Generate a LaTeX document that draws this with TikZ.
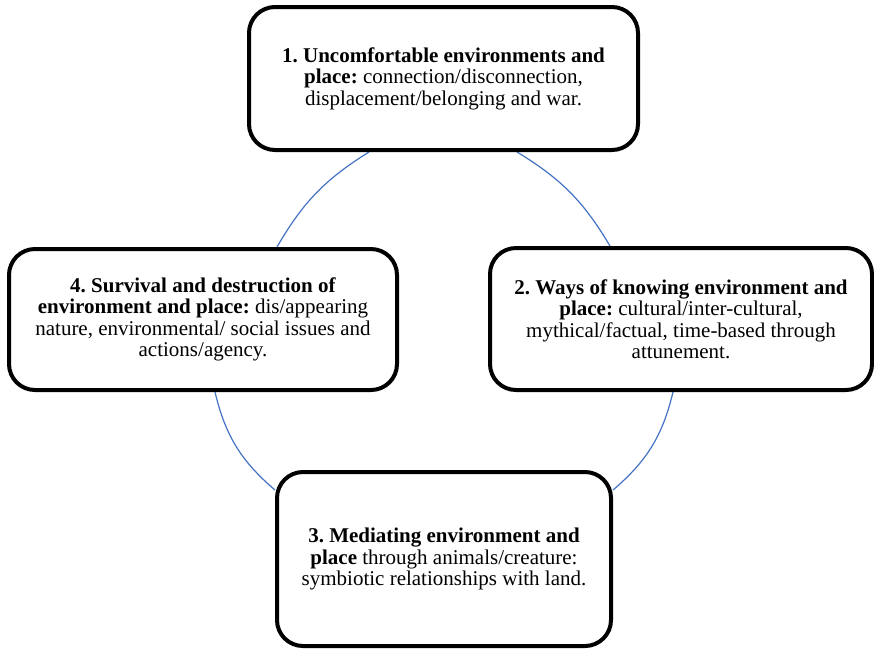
\documentclass[tikz,border=0pt]{standalone}
\usepackage{fontspec}
\setmainfont{Liberation Serif}
\newfontfamily\timesface{Liberation Serif}
\frenchspacing
\usetikzlibrary{backgrounds}
\definecolor{arcblue}{HTML}{4472C4}
\begin{document}
\begin{tikzpicture}[x=1pt,y=-1pt,
  box/.style={draw=black, line width=4pt, rounded corners=26pt, fill=white,
    inner sep=0pt, align=center, font=\timesface\fontsize{21}{21.5}\selectfont},
  link/.style={draw=arcblue, line width=1.2pt}]
\useasboundingbox (0,0) rectangle (874,649);

% the four theme boxes
\node[box, minimum width=389pt, minimum height=143pt] (b1) at (443.5,78.5)
  {\textbf{1. Uncomfortable environments and}\\
   \textbf{place:} connection/disconnection,\\
   displacement/belonging and war.};
\node[box, minimum width=382pt, minimum height=142pt] (b2) at (681,319)
  {\textbf{2. Ways of knowing environment and}\\
   \textbf{place:} cultural/inter-cultural,\\
   mythical/factual, time-based through\\
   attunement.};
\node[box, minimum width=334pt, minimum height=174pt] (b3) at (444,559)
  {\textbf{3. Mediating environment and}\\
   \textbf{place} through animals/creature:\\
   symbiotic relationships with land.};
\node[box, minimum width=388pt, minimum height=141pt] (b4) at (203,319.5)
  {\textbf{4. Survival and destruction of}\\
   \textbf{environment and place:} dis/appearing\\
   nature, environmental/ social issues and\\
   actions/agency.};

% end points of the cycle arcs on the box borders
\coordinate (a1) at (369,0 |- b1.south);
\coordinate (a4) at (277,0 |- b4.north);
\coordinate (c1) at (517,0 |- b1.south);
\coordinate (c2) at (610,0 |- b2.north);
\coordinate (d4) at (215,0 |- b4.south);
\coordinate (d3) at (b3.west |- 0,490);
\coordinate (e2) at (673,0 |- b2.south);
\coordinate (e3) at (b3.east |- 0,490);

\begin{pgfonlayer}{background}
  \draw[link] (a1) to[bend right=14] (a4);
  \draw[link] (c1) to[bend left=14] (c2);
  \draw[link] (d4) to[bend right=18] (d3);
  \draw[link] (e2) to[bend left=18] (e3);
\end{pgfonlayer}
\end{tikzpicture}
\end{document}
